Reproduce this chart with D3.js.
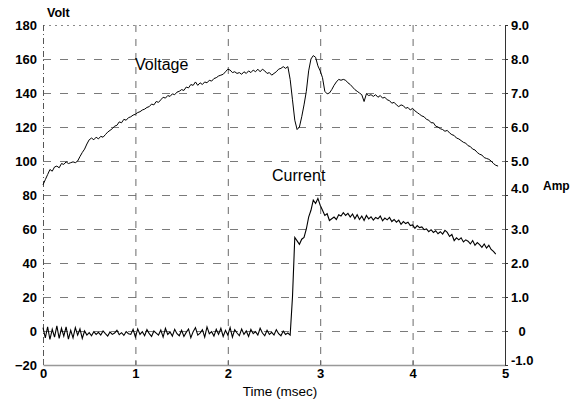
<!DOCTYPE html>
<html>
<head>
<meta charset="utf-8">
<script src="https://cdn.jsdelivr.net/npm/d3@7/dist/d3.min.js"></script>
<style>
  html, body { margin: 0; padding: 0; background: #fff; }
  svg { display: block; }
  text { font-family: "Liberation Sans", Arial, sans-serif; fill: #000; }
</style>
</head>
<body>
<svg id="chart" width="582" height="404"></svg>
<script>
// Oscilloscope record: supply voltage (left axis, Volt) and current (right axis, Amp)
const sampleStep = 0.025; // msec between samples

// Voltage samples, in segments with their start time (msec)
const voltA = [86, 89, 92, 95, 94, 96.5, 97, 96, 98.5, 98,
  99.5, 98.5, 99, 99.5, 99, 100, 102.6, 105, 107, 110,
  112.5, 113.5, 112.5, 114, 113, 114.5, 114, 115.5, 117, 118,
  119, 120.5, 121, 123, 122.5, 124.5, 124, 125.5, 126, 127];
const voltB = [127.5, 128.5, 129, 130, 130.5, 131.5, 132, 133.5, 133, 135,
  134.5, 136, 137.5, 137, 138.5, 138, 139.5, 139, 140.5, 141,
  142, 141.5, 143.5, 143, 145, 144.5, 146.5, 144.5, 146, 145,
  146.5, 146, 147.5, 147, 148.5, 149, 150, 150.5, 151, 152.5];
const voltC = [154, 153.5, 152, 152.5, 151.5, 152, 151, 152.5, 151.5, 153,
  152, 153.5, 152.5, 154, 152.5, 154, 153, 151.5, 152, 150.5,
  151.5, 152.5, 154, 154.5, 155.5, 154.5, 155.5];
const voltD = [148, 136, 124, 118.5, 120, 126, 133, 141, 153, 160,
  162, 161, 156, 153, 149, 141, 139.5, 140, 142, 144.5,
  146.5, 148, 147.5, 148, 147.5, 146, 145, 143.5, 142, 141,
  140, 139, 135];
const voltE = [139.5, 138.5, 139, 138, 139, 137.5, 138.5, 137, 137.5, 136,
  135.5, 134, 134.5, 133, 132, 133, 132.5, 131, 131.5, 130,
  131, 129.5, 128.5, 127.5, 126.5, 126, 124.5, 124, 122.5, 122.5,
  120.5, 120, 119, 118.5, 117.5, 118, 116.5, 115.5, 115, 113.5,
  113, 112, 111, 110.5, 109, 108.5, 107, 106.5, 105, 104,
  103.5, 102, 101.5, 101, 100, 98.5, 97.5, 97];

// Current samples (Amp)
const currA = [0.10, -0.20, 0.12, -0.25, 0.05, -0.18, 0.15, -0.22, 0.08, -0.15,
  0.12, -0.24, 0.02, -0.20, 0.10, -0.12, 0.06, -0.22, 0.00,
  -0.12, -0.05, -0.14, -0.02, -0.10, -0.04, -0.12, 0.00, -0.08, -0.15,
  -0.03, -0.10, -0.06, 0.02, -0.11, -0.05, -0.13, -0.02, -0.08, -0.10,
  0.05, -0.18, 0.06, -0.10, -0.02, -0.14, 0.04, -0.08, -0.16, 0.00,
  -0.06, -0.12, 0.03, -0.18, 0.08, -0.10, -0.03, -0.15, 0.05, -0.08,
  -0.14, 0.02, -0.16, -0.04, 0.06, -0.20, -0.02, 0.10, -0.12, -0.06,
  0.04, -0.18, 0.12, -0.08, -0.02, -0.15, 0.05, -0.10, 0.08, -0.16,
  0.02, -0.12, 0.10, -0.18, 0.04, -0.06, -0.14, 0.06, -0.10, 0.00,
  -0.16, 0.05, -0.08, -0.02, -0.12, 0.08, -0.06, -0.14, 0.02, -0.10,
  -0.04, -0.12, 0.04, -0.08, -0.14, 0.00, -0.10, -0.06, -0.12];
const currB = [1.0, 2.75, 2.65, 2.55, 2.70, 2.75, 3.00, 3.35, 3.55, 3.85,
  3.75, 3.90, 3.70, 3.55, 3.40, 3.45, 3.25, 3.30, 3.35, 3.28,
  3.42, 3.38, 3.48, 3.40, 3.46, 3.35, 3.44, 3.30, 3.42, 3.28,
  3.38, 3.25, 3.40, 3.30, 3.36, 3.26, 3.34, 3.30, 3.38, 3.24,
  3.32, 3.27, 3.34, 3.22, 3.28, 3.20, 3.26, 3.14, 3.22, 3.16,
  3.20, 3.10, 3.12, 3.02, 3.10, 3.04, 3.06, 2.98, 3.00, 2.92,
  2.98, 2.90, 2.95, 2.86, 2.92, 2.85, 2.96, 2.90, 2.78, 2.84,
  2.66, 2.74, 2.68, 2.74, 2.62, 2.68, 2.64, 2.56, 2.66, 2.52,
  2.60, 2.54, 2.46, 2.56, 2.44, 2.52, 2.40, 2.34, 2.26];

const voltageSegments = [[0, voltA], [1.0, voltB], [2.0, voltC], [2.675, voltD], [3.5, voltE]];
const currentSegments = [[0, currA], [2.7, currB]];

const timeTicks = [0, 1, 2, 3, 4, 5];
const voltTicks = [-20, 0, 20, 40, 60, 80, 100, 120, 140, 160, 180];
const ampTicks = [-1, 0, 1, 2, 3, 4, 5, 6, 7, 8, 9];
const ampLabels = ["-1.0", "0", "1.0", "2.0", "3.0", "4.0", "5.0", "6.0", "7.0", "8.0", "9.0"];

function toPoints(segments) {
  const pts = [];
  segments.forEach(([start, vals]) => vals.forEach((v, i) => pts.push([start + i * sampleStep, v])));
  return pts;
}
const voltage = toPoints(voltageSegments);
const current = toPoints(currentSegments);

const svg = d3.select("#chart");
const x = d3.scaleLinear().domain([0, 5]).range([43, 505]);
const yV = d3.scaleLinear().domain([-20, 180]).range([365, 25]);
const yA = d3.scaleLinear().domain([-1, 9]).range([365, 25]);

// grid
const grid = svg.append("g");
grid.selectAll("line.h").data(voltTicks.filter(v => v > -20 && v < 180)).join("line")
  .attr("x1", x(0)).attr("x2", x(5))
  .attr("y1", d => yV(d) + 0.5).attr("y2", d => yV(d) + 0.5)
  .attr("stroke", "#7a7a7a").attr("stroke-width", 1).attr("stroke-dasharray", "8,9");
grid.selectAll("line.v").data([1, 2, 3, 4]).join("line")
  .attr("x1", d => x(d) + 0.5).attr("x2", d => x(d) + 0.5)
  .attr("y1", yV(180)).attr("y2", yV(-20))
  .attr("stroke", "#6a6a6a").attr("stroke-width", 1).attr("stroke-dasharray", "7,7");
// frame
svg.append("line").attr("x1", x(0)).attr("x2", x(5)).attr("y1", yV(180) + 0.5).attr("y2", yV(180) + 0.5)
  .attr("stroke", "#8a8a8a").attr("stroke-dasharray", "2,4");
svg.append("line").attr("x1", x(0) + 0.5).attr("x2", x(0) + 0.5).attr("y1", yV(180)).attr("y2", yV(-20))
  .attr("stroke", "#555").attr("stroke-dasharray", "6,3,1,3");

// bottom axis
const xAxis = d3.axisBottom(x).tickValues(timeTicks).tickSize(0).tickPadding(4).tickFormat(d3.format("d"));
const gx = svg.append("g").attr("transform", `translate(0,${yV(-20)})`).call(xAxis);
gx.select(".domain").attr("stroke", "#999").attr("stroke-width", 1.5);
gx.selectAll("text").attr("font-size", 13).attr("fill", "#000").attr("font-weight", "bold");
gx.selectAll(".tick").append("line").attr("y1", 0).attr("y2", -5).attr("stroke", "#666");

// left axis
const yAxisL = d3.axisLeft(yV).tickValues(voltTicks).tickSize(0).tickPadding(6);
const gl = svg.append("g").attr("transform", `translate(${x(0)},0)`).call(yAxisL);
gl.select(".domain").remove();
gl.selectAll("text").attr("font-size", 13).attr("fill", "#000").attr("font-weight", "bold");

// right axis
const yAxisR = d3.axisRight(yA).tickValues(ampTicks).tickSize(3).tickPadding(3)
  .tickFormat((d, i) => ampLabels[i]);
const gr = svg.append("g").attr("transform", `translate(${x(5)},0)`).call(yAxisR);
gr.select(".domain").attr("stroke", "#333");
gr.selectAll(".tick line").attr("stroke", "#333");
gr.selectAll("text").attr("font-size", 13).attr("fill", "#000").attr("font-weight", "bold");
gr.selectAll(".tick").filter(d => d === 0).select("text").attr("x", 17).attr("text-anchor", "middle");
gr.selectAll(".tick").filter(d => d === 4).select("text").attr("y", -7);
gr.selectAll(".tick").filter(d => d === -1).select("text").attr("y", -5);

// traces
const lineV = d3.line().x(d => x(d[0])).y(d => yV(d[1]));
const lineA = d3.line().x(d => x(d[0])).y(d => yA(d[1]));
svg.append("path").datum(voltage).attr("d", lineV)
  .attr("fill", "none").attr("stroke", "#000").attr("stroke-width", 1);
svg.append("path").datum(current).attr("d", lineA)
  .attr("fill", "none").attr("stroke", "#000").attr("stroke-width", 1.1);

// labels
svg.append("text").attr("x", 47).attr("y", 17).attr("font-size", 12.5).attr("font-weight", "bold").text("Volt");
svg.append("text").attr("x", 543).attr("y", 190).attr("font-size", 12).attr("font-weight", "bold").text("Amp");
svg.append("text").attr("x", 135).attr("y", 70).attr("font-size", 16).text("Voltage");
svg.append("text").attr("x", 272).attr("y", 181).attr("font-size", 16).text("Current");
svg.append("text").attr("x", 280).attr("y", 396).attr("text-anchor", "middle").attr("font-size", 13.5).text("Time (msec)");
</script>
</body>
</html>
